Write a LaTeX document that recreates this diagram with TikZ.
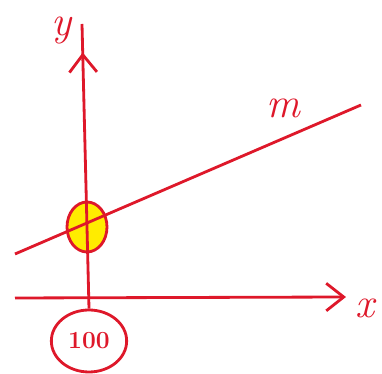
\documentclass[tikz,border=0pt]{standalone}
\usepackage{tikz}
\usetikzlibrary{arrows.meta, shapes.geometric, decorations.markings}
\definecolor{penred}{RGB}{222,24,42}
\definecolor{hiyellow}{RGB}{255,236,0}

\begin{document}
\begin{tikzpicture}[line width=1.6pt, draw=penred, text=penred,
    >={Straight Barb[length=3.5mm, width=5.5mm, line width=1.6pt]},
    axislbl/.style={font=\fontsize{24}{26}\selectfont\itshape, inner sep=0pt}]
    \useasboundingbox (0,0) rectangle (7.64,7.48);
    % intersection point and the value it stands for
    \node[ellipse, draw, fill=hiyellow, minimum width=0.8cm, minimum height=1.0cm] (hit) at (1.74,2.94) {};
    \node[ellipse, draw, minimum width=1.36cm, minimum height=1.24cm, font=\fontsize{14}{16}\selectfont\bfseries] (val) at (1.78,0.66) {100};
    \coordinate (xstart) at (0.30,1.52);
    \coordinate (xend) at (6.92,1.54);
    \coordinate (ytop) at (1.64,7.00);
    \coordinate (mstart) at (0.30,2.40);
    \coordinate (mend) at (7.22,5.38);
    % axes
    \draw[->] (xstart) -- (xend);
    \draw[postaction={decorate}, decoration={markings, mark=at position 0.9 with {\arrow{>}}}]
      (val.north) -- (ytop);
    \node[axislbl] (xlbl) at (7.30,1.32) {x};
    \node[axislbl] (ylbl) at (1.24,6.86) {y};
    % line m
    \draw (mstart) -- (mend);
    \node[axislbl] (mlbl) at (5.66,5.32) {m};
  \end{tikzpicture}
\end{document}
